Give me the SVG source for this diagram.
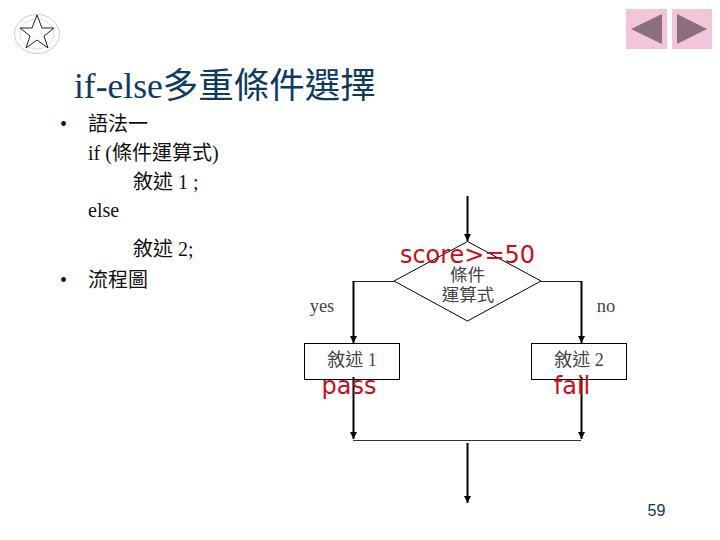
<svg xmlns="http://www.w3.org/2000/svg" width="720" height="540" viewBox="0 0 720 540">
<style>
.t{font-family:"Liberation Serif","Noto Sans CJK TC",serif;fill:#111}
.b{font-size:20px}
.f{font-size:17.5px;fill:#444}
.r{font-family:"DejaVu Sans",sans-serif;fill:#c8101c;font-size:24px}
.n{fill:none;stroke:#000;stroke-width:1}
.a{fill:none;stroke:#000;stroke-width:2;marker-end:url(#h)}
.w{fill:none;stroke:#222;stroke-width:1}
.nav{fill:#f2c6d8}
.tri{fill:#8a6f7e}
</style>
<defs><marker id="h" markerUnits="userSpaceOnUse" markerWidth="8" markerHeight="7" refX="7" refY="3.5" orient="auto"><path d="M0 0L7 3.5L0 7z" fill="#000"/></marker></defs>
<rect width="720" height="540" fill="#fff"/>
<g id="star-badge">
<ellipse cx="37" cy="34" rx="22.500" ry="19.500" fill="none" stroke="#ccc"/>
<ellipse cx="37" cy="34" rx="17" ry="15" fill="none" stroke="#ddd"/>
<path d="M37 15L42 28L54 28L44 36L48 48L37 40L26 48L30 36L20 28L32 28Z" fill="none" stroke="#222"/>
</g>
<g id="nav-prev"><rect class="nav" x="626" y="9" width="41" height="40"/><path class="tri" d="M631 29L662 14V44Z"/></g>
<g id="nav-next"><rect class="nav" x="672" y="9" width="40" height="40"/><path class="tri" d="M677 14L707 29L677 44Z"/></g>
<text id="title" class="t" x="74" y="98" font-size="35.500" style="fill:#0f3a5f">if-else多重條件選擇</text>
<g id="body">
<text class="t b" x="60" y="131">•</text>
<text class="t b" x="88" y="131">語法一</text>
<text class="t b" x="88" y="160">if (條件運算式)</text>
<text class="t b" x="133" y="189">敘述 1 ;</text>
<text class="t b" x="88" y="217">else</text>
<text class="t b" x="133" y="256">敘述 2;</text>
<text class="t b" x="60" y="287">•</text>
<text class="t b" x="88" y="287">流程圖</text>
</g>
<g id="connectors">
<path class="a" d="M467.500 196V241"/>
<path class="w" d="M394 281.500H353"/>
<path class="a" d="M353.500 281V343"/>
<path class="w" d="M541 281.500H582"/>
<path class="a" d="M581.500 281V343"/>
<path class="a" d="M353.500 377V439"/>
<path class="a" d="M581.500 377V439"/>
<path d="M353 440.500H581" fill="none" stroke="#333"/>
<path class="a" d="M467.500 443V503"/>
</g>
<g id="decision">
<path d="M467.500 241.500L541 281L467.500 321L394 281Z" fill="#fff" stroke="#000"/>
<text class="t f" x="467.500" y="281" text-anchor="middle">條件</text>
<text class="t f" x="468" y="301" text-anchor="middle">運算式</text>
<text class="r" x="467.500" y="263" text-anchor="middle">score&gt;=50</text>
</g>
<g id="box-1">
<rect class="n" x="304.500" y="343.500" width="95" height="36"/>
<text class="t f" x="352" y="366" text-anchor="middle" style="font-size:18px">敘述 1</text>
<text class="r" x="349" y="394" text-anchor="middle">pass</text>
</g>
<g id="box-2">
<rect class="n" x="531.500" y="343.500" width="95" height="36"/>
<text class="t f" x="579" y="366" text-anchor="middle" style="font-size:18px">敘述 2</text>
<text class="r" x="572" y="394" text-anchor="middle">fail</text>
</g>
<text class="t f" x="322" y="312" text-anchor="middle" style="font-size:18.500px">yes</text>
<text class="t f" x="606" y="312" text-anchor="middle" style="font-size:18.500px">no</text>
<text id="page" x="656.500" y="516" text-anchor="middle" font-family="Liberation Sans, sans-serif" font-size="16" fill="#0f3a5f">59</text>
</svg>
